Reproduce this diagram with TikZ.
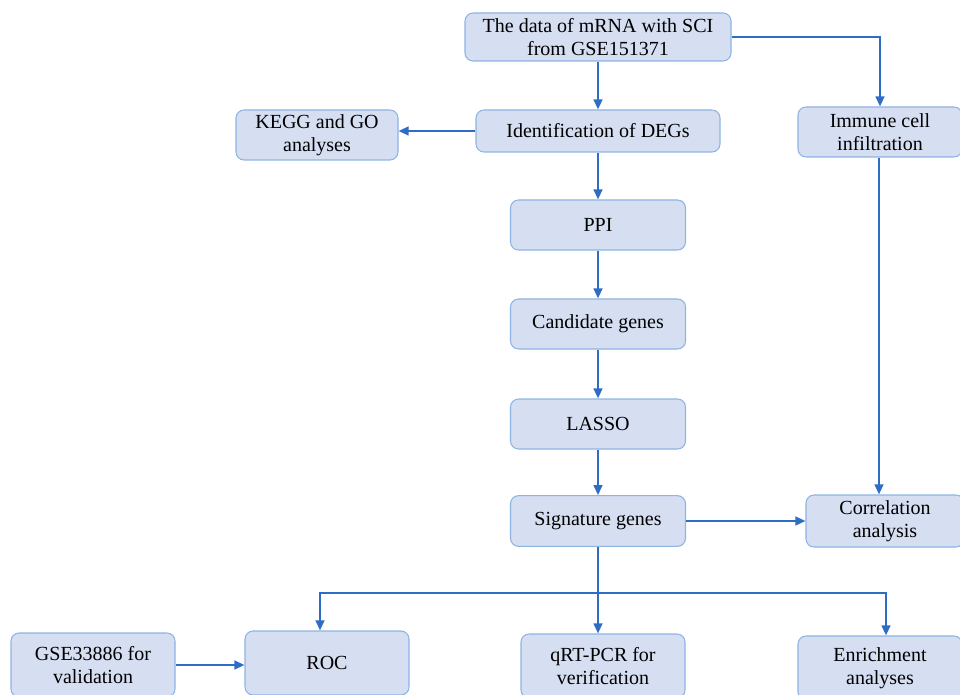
\documentclass[tikz,border=0pt]{standalone}
\usepackage{fontspec}
\setmainfont{Liberation Serif}
\usetikzlibrary{arrows.meta,positioning}
\definecolor{boxfill}{HTML}{D6DEF2}
\definecolor{boxline}{HTML}{8EB4E3}
\definecolor{flowblue}{HTML}{2F6CC4}

\begin{document}
\begin{tikzpicture}[x=0.75pt,y=-0.75pt,
    box/.style={rectangle,rounded corners=6pt,draw=boxline,fill=boxfill,line width=0.8pt,
      align=center,inner sep=1pt,font=\fontsize{15}{17.5}\selectfont},
    flow/.style={draw=flowblue,line width=1.5pt,-{Triangle[length=7.5pt,width=6.5pt]}}]

\useasboundingbox (0,0) rectangle (960,695);
\clip (0,0) rectangle (960,695);

%DRAWING BOXES
  \node[box,minimum width=199.5pt,minimum height=36pt] (data) at (598,37) {The data of mRNA with SCI\\from GSE151371};
  \node[box,minimum width=183pt,minimum height=31.5pt] (degs) at (598,131) {Identification of DEGs};
  \node[box,minimum width=121.5pt,minimum height=37.5pt] (kegg) at (317,135) {KEGG and GO\\analyses};
  \node[box,minimum width=123pt,minimum height=37.5pt] (immune) at (880,132) {Immune cell\\infiltration};
  \node[box,minimum width=131.25pt,minimum height=37.5pt] (ppi) at (598,225) {PPI};
  \node[box,minimum width=131.25pt,minimum height=37.5pt] (cand) at (598,324) {Candidate genes};
  \node[box,minimum width=131.25pt,minimum height=37.5pt] (lasso) at (598,424) {LASSO};
  \node[box,minimum width=131.25pt,minimum height=38pt] (sig) at (598,521) {Signature genes};
  \node[box,minimum width=118.5pt,minimum height=39pt] (corr) at (885,521) {Correlation\\analysis};

%BOTTOM ROW (cut by the edge)
  \node[box,minimum width=123pt,minimum height=48pt] (roc) at (327,663) {ROC};
  \node[box,minimum width=123pt,minimum height=48pt] (gse) at (93,665) {GSE33886 for\\validation};
  \node[box,minimum width=123pt,minimum height=48pt] (qpcr) at (603,666) {qRT-PCR for\\verification};
  \node[box,minimum width=123pt,minimum height=48pt] (enrich) at (880,668) {Enrichment\\analyses};

%DRAWING ARROWS
  \draw[flow] (data) -- (degs);
  \draw[flow] (data.east) -| (immune.north);
  \draw[flow] (degs.west) -- (kegg.east |- degs.west);
  \draw[flow] (degs) -- (ppi);
  \draw[flow] (ppi) -- (cand);
  \draw[flow] (cand) -- (lasso);
  \draw[flow] (lasso) -- (sig);
  \draw[flow] ([xshift=-0.75pt]immune.south) -- ([xshift=-0.75pt]immune.south |- corr.north);
  \draw[flow] (sig.east) -- (corr.west |- sig.east);

  \coordinate (split) at (598,593);
  \draw[flow] (sig.south) -- (sig.south |- qpcr.north);
  \draw[flow] (split) -| ([xshift=-5.25pt]roc.north);
  \draw[flow] (split) -| ([xshift=4.5pt]enrich.north);
  \draw[flow] (gse.east) -- (gse.east -| roc.west);

\end{tikzpicture}
\end{document}
